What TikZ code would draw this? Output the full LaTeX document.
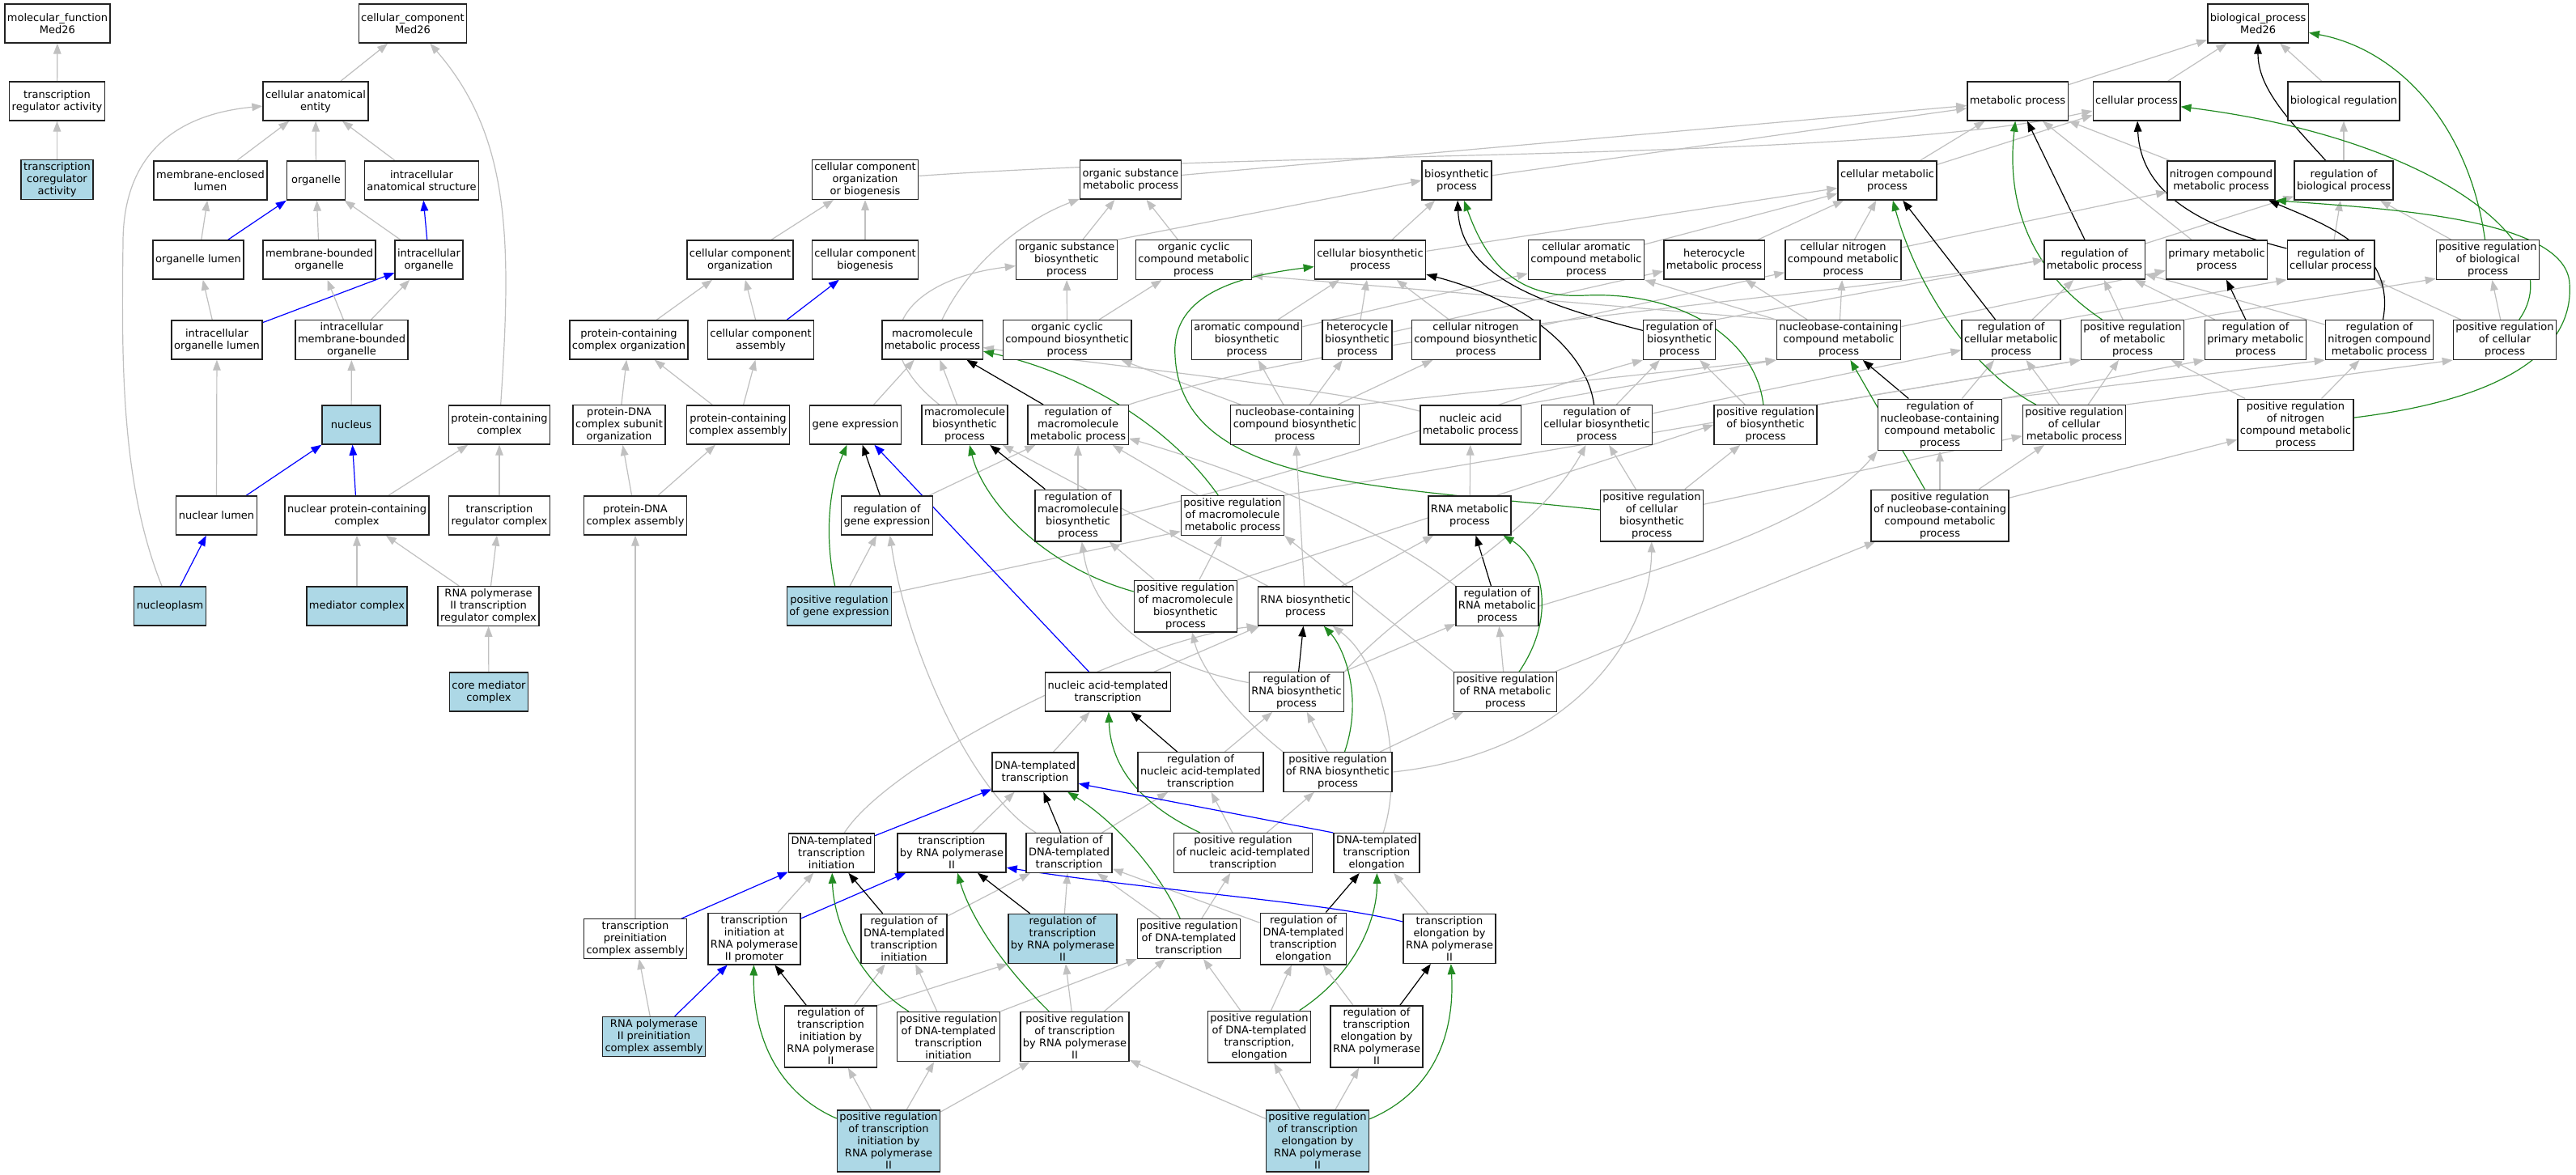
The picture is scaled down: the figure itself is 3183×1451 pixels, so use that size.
\documentclass[tikz,border=0pt]{standalone}
\usepackage{fontspec}
\setmainfont{DejaVu Sans}
\usetikzlibrary{arrows.meta}
\definecolor{edgegray}{HTML}{C0C0C0}
\definecolor{fgreen}{HTML}{228B22}
\definecolor{lblue}{HTML}{ADD8E6}
\definecolor{boxline}{HTML}{222222}
\pgfdeclarelayer{bg}
\pgfdeclarelayer{edges}
\pgfsetlayers{bg,edges,main}
\tikzset{
 gobox/.style={draw=boxline, line width=0.7pt, fill=white, rectangle, align=center, inner xsep=1.5pt, inner ysep=1.5pt, minimum height=24pt, minimum width=36pt, font=\fontsize{6.5}{7.5}\selectfont},
 gohit/.style={gobox, fill=lblue},
 tipE/.style={-{Triangle[length=6.5pt,width=4.8pt]}, line width=0.6pt},
 isaE/.style={tipE, draw=edgegray, color=edgegray},
 partE/.style={tipE, draw=blue, color=blue},
 regE/.style={tipE, draw=black, color=black},
 posE/.style={tipE, draw=fgreen, color=fgreen},
}
\begin{document}
\begin{tikzpicture}[x=0.5pt,y=0.5pt]
\useasboundingbox (0,0) rectangle (3183,-1451);
\begin{pgfonlayer}{bg}
\fill[white] (0,0) rectangle (3183,-1451);
\end{pgfonlayer}
% ---------- row 1
\node[gobox] (mf) at (71,-29) {molecular\_function\\Med26};
\node[gobox] (cc) at (510,-29) {cellular\_component\\Med26};
\node[gobox] (bp) at (2790,-29) {biological\_process\\Med26};
% ---------- row 2
\node[gobox] (tra) at (70.5,-125) {transcription\\regulator activity};
\node[gobox] (cae) at (390,-125) {cellular anatomical\\entity};
\node[gobox] (mp) at (2493,-125) {metabolic process};
\node[gobox] (cp) at (2640,-125) {cellular process};
\node[gobox] (br) at (2896,-125) {biological regulation};
% ---------- row 3
\node[gohit] (tca) at (70.5,-222) {transcription\\coregulator\\activity};
\node[gobox] (mel) at (260,-223) {membrane-enclosed\\lumen};
\node[gobox] (org) at (390.5,-223) {organelle};
\node[gobox] (ias) at (521,-223) {intracellular\\anatomical structure};
\node[gobox] (ccob) at (1069,-222) {cellular component\\organization\\or biogenesis};
\node[gobox] (osmp) at (1397,-222) {organic substance\\metabolic process};
\node[gobox] (bsp) at (1800,-223) {biosynthetic\\process};
\node[gobox] (cmp) at (2332,-223) {cellular metabolic\\process};
\node[gobox] (ncmp) at (2744.5,-223) {nitrogen compound\\metabolic process};
\node[gobox] (rbio) at (2896,-223) {regulation of\\biological process};
% ---------- row 4
\node[gobox] (ol) at (245,-321) {organelle lumen};
\node[gobox] (mbo) at (394.5,-321) {membrane-bounded\\organelle};
\node[gobox] (io) at (530,-321) {intracellular\\organelle};
\node[gobox] (cco) at (914.5,-321) {cellular component\\organization};
\node[gobox] (ccb) at (1069,-321) {cellular component\\biogenesis};
\node[gobox] (osbp) at (1318,-321) {organic substance\\biosynthetic\\process};
\node[gobox] (occmp) at (1475,-321) {organic cyclic\\compound metabolic\\process};
\node[gobox] (cbp) at (1693,-321) {cellular biosynthetic\\process};
\node[gobox] (camp) at (1960,-321) {cellular aromatic\\compound metabolic\\process};
\node[gobox] (hmp) at (2118,-321) {heterocycle\\metabolic process};
\node[gobox] (cnmp) at (2277.5,-321) {cellular nitrogen\\compound metabolic\\process};
\node[gobox] (rmp) at (2588,-321) {regulation of\\metabolic process};
\node[gobox] (pmp) at (2739,-321) {primary metabolic\\process};
\node[gobox] (rcp) at (2880,-321) {regulation of\\cellular process};
\node[gobox] (prbio) at (3074,-321) {positive regulation\\of biological\\process};
% ---------- row 5
\node[gobox] (iol) at (268,-420) {intracellular\\organelle lumen};
\node[gobox] (imbo) at (434.5,-420) {intracellular\\membrane-bounded\\organelle};
\node[gobox] (pcco) at (777,-420) {protein-containing\\complex organization};
\node[gobox] (cca) at (940,-420) {cellular component\\assembly};
\node[gobox] (mmp) at (1152,-420) {macromolecule\\metabolic process};
\node[gobox] (occbp) at (1318.6,-420) {organic cyclic\\compound biosynthetic\\process};
\node[gobox] (acbp) at (1540.6,-420) {aromatic compound\\biosynthetic\\process};
\node[gobox] (hbp) at (1677,-420) {heterocycle\\biosynthetic\\process};
\node[gobox] (cnbp) at (1823.5,-420) {cellular nitrogen\\compound biosynthetic\\process};
\node[gobox] (rbsp) at (2075,-420) {regulation of\\biosynthetic\\process};
\node[gobox] (nucmp) at (2272,-420) {nucleobase-containing\\compound metabolic\\process};
\node[gobox] (rcmp) at (2485,-420) {regulation of\\cellular metabolic\\process};
\node[gobox] (prmp) at (2635,-420) {positive regulation\\of metabolic\\process};
\node[gobox] (rpmp) at (2787,-420) {regulation of\\primary metabolic\\process};
\node[gobox] (rnitmp) at (2940,-420) {regulation of\\nitrogen compound\\metabolic process};
\node[gobox] (prcp) at (3095,-420) {positive regulation\\of cellular\\process};
% ---------- row 6
\node[gohit] (nuc) at (434,-525) {nucleus};
\node[gobox] (pcc) at (617,-525) {protein-containing\\complex};
\node[gobox] (pdso) at (765,-525) {protein-DNA\\complex subunit\\organization};
\node[gobox] (pcca) at (912,-525) {protein-containing\\complex assembly};
\node[gobox] (ge) at (1057,-525) {gene expression};
\node[gobox] (mbp) at (1192,-525) {macromolecule\\biosynthetic\\process};
\node[gobox] (rmmp) at (1332,-525) {regulation of\\macromolecule\\metabolic process};
\node[gobox] (nucbp) at (1600,-525) {nucleobase-containing\\compound biosynthetic\\process};
\node[gobox] (namp) at (1817,-525) {nucleic acid\\metabolic process};
\node[gobox] (rcbp) at (1973,-525) {regulation of\\cellular biosynthetic\\process};
\node[gobox] (prbsp) at (2181.5,-525) {positive regulation\\of biosynthetic\\process};
\node[gobox] (rnucmp) at (2397,-525) {regulation of\\nucleobase-containing\\compound metabolic\\process};
\node[gobox] (prcmp) at (2563,-525) {positive regulation\\of cellular\\metabolic process};
\node[gobox] (prnitmp) at (2836.5,-525) {positive regulation\\of nitrogen\\compound metabolic\\process};
% ---------- row 7
\node[gobox] (nl) at (267.5,-637) {nuclear lumen};
\node[gobox] (npcc) at (441,-637) {nuclear protein-containing\\complex};
\node[gobox] (trc) at (617,-637) {transcription\\regulator complex};
\node[gobox] (pdca) at (785,-637) {protein-DNA\\complex assembly};
\node[gobox] (rge) at (1096,-637) {regulation of\\gene expression};
\node[gobox] (rmbp) at (1332,-637) {regulation of\\macromolecule\\biosynthetic\\process};
\node[gobox] (prmmp) at (1523,-637) {positive regulation\\of macromolecule\\metabolic process};
\node[gobox] (rnamp) at (1816,-637) {RNA metabolic\\process};
\node[gobox] (prcbp) at (2041,-637) {positive regulation\\of cellular\\biosynthetic\\process};
\node[gobox] (prnucmp) at (2397,-637) {positive regulation\\of nucleobase-containing\\compound metabolic\\process};
% ---------- row 8
\node[gohit] (np) at (210,-749) {nucleoplasm};
\node[gohit] (med) at (441,-749) {mediator complex};
\node[gobox] (rtrc) at (603.5,-749) {RNA polymerase\\II transcription\\regulator complex};
\node[gohit] (prge) at (1037,-749) {positive regulation\\of gene expression};
\node[gobox] (prmbp) at (1465,-749) {positive regulation\\of macromolecule\\biosynthetic\\process};
\node[gobox] (rnabp) at (1613,-749) {RNA biosynthetic\\process};
\node[gobox] (rrnamp) at (1850,-749) {regulation of\\RNA metabolic\\process};
% ---------- row 9
\node[gohit] (cmed) at (604,-855) {core mediator\\complex};
\node[gobox] (natt) at (1369,-855) {nucleic acid-templated\\transcription};
\node[gobox] (rrnabp) at (1602,-855) {regulation of\\RNA biosynthetic\\process};
\node[gobox] (prrnamp) at (1860,-855) {positive regulation\\of RNA metabolic\\process};
% ---------- row 10
\node[gobox] (dtt) at (1279,-954) {DNA-templated\\transcription};
\node[gobox] (rnatt) at (1483.5,-954) {regulation of\\nucleic acid-templated\\transcription};
\node[gobox] (prrnabp) at (1653,-954) {positive regulation\\of RNA biosynthetic\\process};
% ---------- row 11
\node[gobox] (dtti) at (1027.5,-1054) {DNA-templated\\transcription\\initiation};
\node[gobox] (tbr2) at (1176,-1054) {transcription\\by RNA polymerase\\II};
\node[gobox] (rdtt) at (1321,-1054) {regulation of\\DNA-templated\\transcription};
\node[gobox] (prnatt) at (1536,-1054) {positive regulation\\of nucleic acid-templated\\transcription};
\node[gobox] (dtte) at (1701,-1054) {DNA-templated\\transcription\\elongation};
% ---------- row 12
\node[gobox] (tpca) at (785,-1160) {transcription\\preinitiation\\complex assembly};
\node[gobox] (tirp) at (932,-1160) {transcription\\initiation at\\RNA polymerase\\II promoter};
\node[gobox] (rdtti) at (1117,-1160) {regulation of\\DNA-templated\\transcription\\initiation};
\node[gohit] (rtr2) at (1313,-1160) {regulation of\\transcription\\by RNA polymerase\\II};
\node[gobox] (prdtt) at (1469,-1160) {positive regulation\\of DNA-templated\\transcription};
\node[gobox] (rdtte) at (1610.5,-1160) {regulation of\\DNA-templated\\transcription\\elongation};
\node[gobox] (ter2) at (1791,-1160) {transcription\\elongation by\\RNA polymerase\\II};
% ---------- row 13
\node[gohit] (r2pca) at (808,-1281) {RNA polymerase\\II preinitiation\\complex assembly};
\node[gobox] (rtir2) at (1026.5,-1281) {regulation of\\transcription\\initiation by\\RNA polymerase\\II};
\node[gobox] (prdtti) at (1172,-1281) {positive regulation\\of DNA-templated\\transcription\\initiation};
\node[gobox] (prtr2) at (1328,-1281) {positive regulation\\of transcription\\by RNA polymerase\\II};
\node[gobox] (prdtte) at (1556,-1281) {positive regulation\\of DNA-templated\\transcription,\\elongation};
\node[gobox] (rter2) at (1701,-1281) {regulation of\\transcription\\elongation by\\RNA polymerase\\II};
% ---------- row 14
\node[gohit] (prtir2) at (1098,-1410) {positive regulation\\of transcription\\initiation by\\RNA polymerase\\II};
\node[gohit] (prter2) at (1628,-1410) {positive regulation\\of transcription\\elongation by\\RNA polymerase\\II};

\begin{pgfonlayer}{edges}
% MF
\draw[isaE] (tra) -- (mf);
\draw[isaE] (tca) -- (tra);
% CC
\draw[isaE] (cae) -- (cc);
\draw[isaE] (pcc) .. controls (632,-300) and (632,-170) .. (cc);
\draw[isaE] (mel) -- (cae);
\draw[isaE] (org) -- (cae);
\draw[isaE] (ias) -- (cae);
\draw[isaE] (np) .. controls (150,-600) and (150,-450) .. (152,-300) .. controls (152,-180) and (230,-140) .. (cae);
\draw[isaE] (ol) -- (mel);
\draw[partE] (ol) -- (org);
\draw[isaE] (mbo) -- (org);
\draw[isaE] (io) -- (org);
\draw[partE] (io) -- (ias);
\draw[isaE] (iol) -- (ol);
\draw[partE] (iol) -- (io);
\draw[isaE] (imbo) -- (mbo);
\draw[isaE] (imbo) -- (io);
\draw[isaE] (nuc) -- (imbo);
\draw[isaE] (nl) -- (iol);
\draw[partE] (nl) -- (nuc);
\draw[partE] (npcc) -- (nuc);
\draw[isaE] (npcc) -- (pcc);
\draw[isaE] (trc) -- (pcc);
\draw[partE] (np) -- (nl);
\draw[isaE] (med) -- (npcc);
\draw[isaE] (rtrc) -- (npcc);
\draw[isaE] (rtrc) -- (trc);
\draw[isaE] (cmed) -- (rtrc);
% BP top
\draw[isaE] (mp) -- (bp);
\draw[isaE] (cp) -- (bp);
\draw[isaE] (br) -- (bp);
\draw[regE] (rbio) .. controls (2830,-150) and (2790,-110) .. (bp);
\draw[isaE] (rbio) -- (br);
\draw[posE] (prbio) .. controls (3050,-150) and (2960,-60) .. (bp);
\draw[isaE] (prbio) -- (rbio);
\draw[isaE] (ccob) .. controls (1600,-185) and (2300,-200) .. (cp);
\draw[isaE] (osmp) -- (mp);
\draw[isaE] (bsp) -- (mp);
\draw[isaE] (cmp) -- (mp);
\draw[isaE] (cmp) -- (cp);
\draw[isaE] (ncmp) -- (mp);
\draw[isaE] (pmp) -- (mp);
\draw[regE] (rmp) -- (mp);
\draw[isaE] (rmp) -- (rbio);
\draw[regE] (rcp) .. controls (2720,-280) and (2645,-240) .. (cp);
\draw[isaE] (rcp) -- (rbio);
\draw[posE] (prcp) .. controls (3180,-300) and (3000,-170) .. (cp);
\draw[isaE] (prcp) -- (prbio);
\draw[isaE] (prcp) -- (rcp);
% rows 3-4
\draw[isaE] (cco) -- (ccob);
\draw[isaE] (ccb) -- (ccob);
\draw[isaE] (osbp) -- (osmp);
\draw[isaE] (osbp.north east) -- (bsp.west);
\draw[isaE] (occmp) -- (osmp);
\draw[isaE] (cbp) -- (bsp);
\draw[isaE] (cbp) -- (cmp);
\draw[isaE] (camp) -- (cmp);
\draw[isaE] (hmp) -- (cmp);
\draw[isaE] (cnmp) -- (cmp);
\draw[isaE] (cnmp) -- (ncmp);
% row 5
\draw[isaE] (pcco) -- (cco);
\draw[isaE] (cca) -- (cco);
\draw[partE] (cca) -- (ccb);
\draw[isaE] (mmp) .. controls (1200,-320) and (1270,-270) .. (osmp);
\draw[isaE] (occbp) -- (osbp);
\draw[isaE] (occbp) -- (occmp);
\draw[isaE] (acbp) -- (cbp);
\draw[isaE] (acbp) -- (camp);
\draw[isaE] (hbp) -- (cbp);
\draw[isaE] (hbp) -- (hmp);
\draw[isaE] (cnbp) -- (cbp);
\draw[isaE] (cnbp) -- (cnmp);
\draw[regE] (rbsp) .. controls (1900,-375) and (1805,-340) .. (bsp);
\draw[isaE] (rbsp.north east) -- (rmp.west);
\draw[isaE] (nucmp.north west) -- (camp.south east);
\draw[isaE] (nucmp) -- (hmp);
\draw[isaE] (nucmp) -- (cnmp);
\draw[isaE] (nucmp.north west) -- (occmp.-15);
\draw[isaE] (nucmp) -- (pmp);
\draw[regE] (rcmp) -- (cmp);
\draw[isaE] (rcmp) -- (rmp);
\draw[isaE] (rcmp.north east) -- (rcp.south west);
\draw[posE] (prmp) .. controls (2500,-330) and (2480,-240) .. (mp);
\draw[isaE] (prmp) -- (rmp);
\draw[isaE] (prmp.north east) -- (prbio.-160);
\draw[regE] (rpmp) -- (pmp);
\draw[isaE] (rpmp) -- (rmp);
\draw[regE] (rnitmp) .. controls (2960,-310) and (2880,-280) .. (ncmp);
\draw[isaE] (rnitmp) -- (rmp);
% row 6
\draw[isaE] (pdso) -- (pcco);
\draw[isaE] (pcca) -- (pcco);
\draw[isaE] (pcca) -- (cca);
\draw[isaE] (ge) -- (mmp);
\draw[isaE] (mbp) -- (mmp);
\draw[isaE] (mbp) .. controls (1060,-420) and (1120,-345) .. (osbp);
\draw[regE] (rmmp) -- (mmp);
\draw[isaE] (rmmp.north east) .. controls (1700,-400) and (2250,-370) .. (rmp.west);
\draw[isaE] (nucbp.north east) -- (nucmp.south west);
\draw[isaE] (nucbp) -- (occbp);
\draw[isaE] (nucbp) -- (acbp);
\draw[isaE] (nucbp) -- (hbp);
\draw[isaE] (nucbp) -- (cnbp);
\draw[isaE] (namp) .. controls (1650,-480) and (1350,-450) .. (mmp);
\draw[isaE] (namp.north east) -- (nucmp.south west);
\draw[regE] (rcbp) .. controls (1960,-430) and (1880,-370) .. (cbp);
\draw[isaE] (rcbp) -- (rbsp);
\draw[isaE] (rcbp) -- (rcmp);
\draw[posE] (prbsp) .. controls (2170,-420) and (2080,-360) .. (1960,-365) .. controls (1870,-370) and (1835,-320) .. (bsp);
\draw[isaE] (prbsp) -- (rbsp);
\draw[isaE] (prbsp.north east) -- (prmp.south west);
\draw[regE] (rnucmp) -- (nucmp);
\draw[isaE] (rnucmp) -- (rcmp);
\draw[isaE] (rnucmp.north east) -- (rpmp.south west);
\draw[isaE] (rnucmp.north east) -- (rnitmp.south west);
\draw[posE] (prcmp) .. controls (2440,-460) and (2370,-360) .. (cmp);
\draw[isaE] (prcmp) -- (rcmp);
\draw[isaE] (prcmp) -- (prmp);
\draw[isaE] (prcmp.north east) -- (prcp.south west);
\draw[posE] (prnitmp) .. controls (3120,-490) and (3180,-420) .. (3175,-350) .. controls (3170,-270) and (2950,-258) .. (ncmp.south east);
\draw[isaE] (prnitmp) -- (prmp);
\draw[isaE] (prnitmp) -- (rnitmp);
% row 7
\draw[isaE] (pdca) -- (pdso);
\draw[isaE] (pdca) -- (pcca);
\draw[regE] (rge) -- (ge);
\draw[isaE] (rge) -- (rmmp);
\draw[regE] (rmbp) -- (mbp);
\draw[isaE] (rmbp) -- (rmmp);
\draw[isaE] (rmbp.east) .. controls (1650,-575) and (1900,-480) .. (rbsp.south west);
\draw[posE] (prmmp) .. controls (1440,-520) and (1330,-460) .. (mmp);
\draw[isaE] (prmmp) -- (rmmp);
\draw[isaE] (prmmp.north east) -- (prmp.south west);
\draw[isaE] (rnamp) -- (namp);
\draw[posE] (prcbp) .. controls (1700,-600) and (1460,-600) .. (1452,-440) .. controls (1446,-360) and (1540,-340) .. (cbp);
\draw[isaE] (prcbp) -- (rcbp);
\draw[isaE] (prcbp) -- (prbsp);
\draw[isaE] (prcbp) -- (prcmp);
\draw[posE] (prnucmp) -- (nucmp);
\draw[isaE] (prnucmp) -- (rnucmp);
\draw[isaE] (prnucmp) -- (prcmp);
\draw[isaE] (prnucmp) -- (prnitmp);
% row 8
\draw[posE] (prge) .. controls (1018,-660) and (1025,-600) .. (ge);
\draw[isaE] (prge) -- (rge);
\draw[isaE] (prge.14) -- (prmmp.197);
\draw[posE] (prmbp) .. controls (1290,-700) and (1215,-620) .. (mbp);
\draw[isaE] (prmbp) -- (rmbp);
\draw[isaE] (prmbp) -- (prmmp);
\draw[isaE] (prmbp.north east) -- (prbsp.west);
\draw[isaE] (rnabp) -- (mbp);
\draw[isaE] (rnabp) -- (nucbp);
\draw[isaE] (rnabp) -- (rnamp);
\draw[regE] (rrnamp) -- (rnamp);
\draw[isaE] (rrnamp.east) .. controls (2100,-690) and (2250,-640) .. (rnucmp.south west);
\draw[isaE] (rrnamp.north west) .. controls (1720,-660) and (1560,-590) .. (rmmp.-15);
% row 9
\draw[partE] (natt) -- (ge);
\draw[isaE] (natt) -- (rnabp);
\draw[regE] (rrnabp) -- (rnabp);
\draw[isaE] (rrnabp) -- (rrnamp);
\draw[isaE] (rrnabp) .. controls (1420,-820) and (1350,-760) .. (rmbp);
\draw[isaE] (rrnabp.north east) .. controls (1740,-740) and (1900,-660) .. (rcbp);
\draw[isaE] (prrnamp) -- (rrnamp);
\draw[isaE] (prrnamp) -- (prnucmp);
\draw[isaE] (prrnamp.north west) -- (prmmp.south east);
\draw[posE] (prrnamp) .. controls (1925,-760) and (1905,-690) .. (rnamp);
% row 10
\draw[isaE] (dtt) -- (natt);
\draw[regE] (rnatt) -- (natt);
\draw[isaE] (rnatt) -- (rrnabp);
\draw[posE] (prrnabp) .. controls (1685,-860) and (1660,-800) .. (rnabp);
\draw[isaE] (prrnabp) -- (rrnabp);
\draw[isaE] (prrnabp) -- (prrnamp);
\draw[isaE] (prrnabp.east) .. controls (1950,-930) and (2040,-780) .. (prcbp);
\draw[isaE] (prrnabp.north west) .. controls (1530,-885) and (1485,-830) .. (prmbp);
% row 11
\draw[partE] (dtti) -- (dtt);
\draw[isaE] (dtti) .. controls (1100,-940) and (1400,-790) .. (rnabp.south west);
\draw[isaE] (tbr2) -- (dtt);
\draw[regE] (rdtt) -- (dtt);
\draw[isaE] (rdtt) -- (rnatt);
\draw[isaE] (rdtt) .. controls (1200,-980) and (1120,-800) .. (rge);
\draw[posE] (prnatt) .. controls (1400,-990) and (1372,-940) .. (natt);
\draw[isaE] (prnatt) -- (rnatt);
\draw[isaE] (prnatt) -- (prrnabp);
\draw[partE] (dtte.north west) -- (dtt.-15);
\draw[isaE] (dtte) .. controls (1735,-950) and (1710,-820) .. (rnabp);
% row 12
\draw[isaE] (tpca) -- (pdca);
\draw[partE] (tpca) -- (dtti);
\draw[isaE] (tirp) -- (dtti);
\draw[partE] (tirp) -- (tbr2);
\draw[regE] (rdtti) -- (dtti);
\draw[isaE] (rdtti) -- (rdtt);
\draw[regE] (rtr2) -- (tbr2);
\draw[isaE] (rtr2) -- (rdtt);
\draw[posE] (prdtt) .. controls (1430,-1070) and (1370,-1010) .. (dtt);
\draw[isaE] (prdtt) -- (rdtt);
\draw[isaE] (prdtt) -- (prnatt);
\draw[regE] (rdtte) -- (dtte);
\draw[isaE] (rdtte) -- (rdtt);
\draw[isaE] (ter2) -- (dtte);
\draw[partE] (ter2.160) .. controls (1640,-1115) and (1420,-1100) .. (tbr2.-15);
% row 13
\draw[isaE] (r2pca) -- (tpca);
\draw[partE] (r2pca) -- (tirp);
\draw[regE] (rtir2) -- (tirp);
\draw[isaE] (rtir2) -- (rdtti);
\draw[isaE] (rtir2.north east) -- (rtr2.south west);
\draw[posE] (prdtti) .. controls (1060,-1210) and (1030,-1140) .. (dtti);
\draw[isaE] (prdtti) -- (rdtti);
\draw[isaE] (prdtti.north east) -- (prdtt.south west);
\draw[posE] (prtr2) .. controls (1225,-1180) and (1195,-1120) .. (tbr2);
\draw[isaE] (prtr2) -- (rtr2);
\draw[isaE] (prtr2) -- (prdtt);
\draw[posE] (prdtte) .. controls (1680,-1200) and (1702,-1130) .. (dtte);
\draw[isaE] (prdtte) -- (rdtte);
\draw[isaE] (prdtte) -- (prdtt);
\draw[regE] (rter2) -- (ter2);
\draw[isaE] (rter2) -- (rdtte);
% row 14
\draw[posE] (prtir2) .. controls (960,-1350) and (930,-1280) .. (tirp);
\draw[isaE] (prtir2) -- (rtir2);
\draw[isaE] (prtir2) -- (prdtti);
\draw[isaE] (prtir2) -- (prtr2);
\draw[posE] (prter2) .. controls (1770,-1350) and (1798,-1280) .. (ter2);
\draw[isaE] (prter2) -- (rter2);
\draw[isaE] (prter2) -- (prdtte);
\draw[isaE] (prter2) -- (prtr2);
\end{pgfonlayer}
\end{tikzpicture}
\end{document}
